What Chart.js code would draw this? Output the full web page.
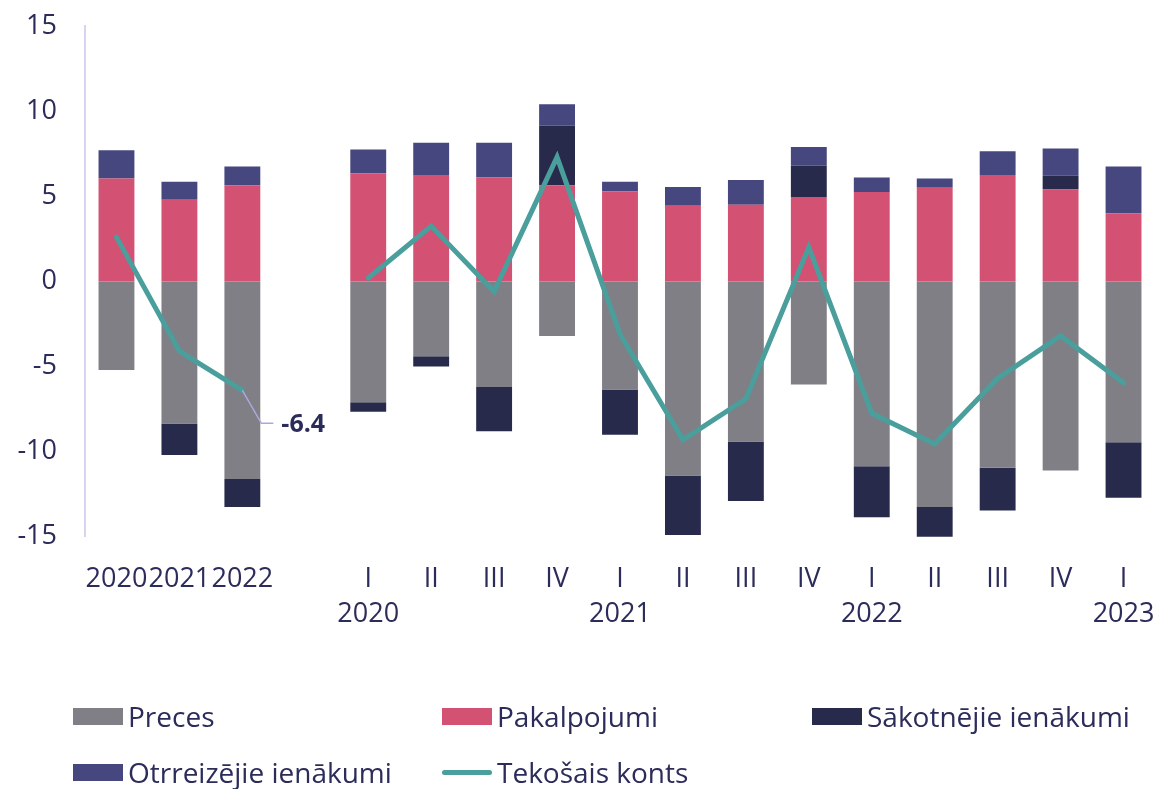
<!DOCTYPE html>
<html>
<head>
<meta charset="utf-8">
<script src="https://cdn.jsdelivr.net/npm/chart.js@4"></script>
<style>
    body { margin: 0; background: #fff; font-family: 'Open Sans', sans-serif; }
    #wrap { position: relative; width: 1158px; height: 789px; }
    #legend { position: absolute; left: 73px; top: 697px; width: 1090px; }
    .item { position: absolute; display: flex; align-items: center; font-size: 28px; color: #2b2c5a; white-space: nowrap; }
    .box { width: 50px; height: 17px; margin-right: 5px; }
    .ln { width: 50px; height: 5px; border-radius: 3px; margin-right: 5px; }
</style>
</head>
<body>
<div id="wrap">
    <canvas id="chart" width="1158" height="789"></canvas>
    <div id="legend"></div>
</div>
<script>
    const labels = [
        '2020', '2021', '2022', '',
        ['I', '2020'], 'II', 'III', 'IV',
        ['I', '2021'], 'II', 'III', 'IV',
        ['I', '2022'], 'II', 'III', 'IV',
        ['I', '2023']
    ];

    const preces = [-5.2, -8.35, -11.6, null,
        -7.1, -4.4, -6.2, -3.2,
        -6.35, -11.4, -9.4, -6.05,
        -10.85, -13.25, -10.95, -11.1,
        -9.45];
    const pakalpojumi = [6.05, 4.8, 5.65, null,
        6.35, 6.25, 6.1, 5.65,
        5.3, 4.45, 4.5, 4.95,
        5.25, 5.5, 6.25, 5.4,
        4.0];
    const sakotnejie = [0, -1.85, -1.65, null,
        -0.55, -0.6, -2.6, 3.5,
        -2.65, -3.5, -3.5, 1.85,
        -3.0, -2.0, -2.5, 0.8,
        -3.25];
    const otrreizejie = [1.65, 1.05, 1.1, null,
        1.4, 1.9, 2.05, 1.25,
        0.55, 1.1, 1.45, 1.1,
        0.85, 0.55, 1.4, 1.6,
        2.75];
    const tekosais = [2.6, -4.1, -6.4, null,
        0.2, 3.25, -0.6, 7.3,
        -3.1, -9.3, -6.9, 2.0,
        -7.75, -9.55, -5.7, -3.2,
        -5.95];

    const textColor = '#2b2c5a';

    const data = {
        labels: labels,
        datasets: [
            { label: 'Preces', data: preces, backgroundColor: '#807f85', order: 1 },
            { label: 'Pakalpojumi', data: pakalpojumi, backgroundColor: '#d35172', order: 1 },
            { label: 'Sākotnējie ienākumi', data: sakotnejie, backgroundColor: '#282a4c', order: 1 },
            { label: 'Otrreizējie ienākumi', data: otrreizejie, backgroundColor: '#46477e', order: 1 },
            {
                label: 'Tekošais konts',
                type: 'line',
                data: tekosais,
                borderColor: '#4a9e9c',
                backgroundColor: '#4a9e9c',
                borderWidth: 5,
                borderCapStyle: 'round',
                pointRadius: 0,
                spanGaps: false,
                tension: 0,
                order: 0
            }
        ]
    };

    // leader line + value label for the 2022 current account point
    const callout = {
        id: 'callout',
        afterDatasetsDraw: (chart) => {
            const ctx = chart.ctx;
            const pt = chart.getDatasetMeta(4).data[2];
            ctx.save();
            ctx.strokeStyle = '#a9a9dd';
            ctx.lineWidth = 1.5;
            ctx.beginPath();
            ctx.moveTo(pt.x, pt.y);
            ctx.lineTo(pt.x + 19, pt.y + 33);
            ctx.lineTo(pt.x + 31, pt.y + 33);
            ctx.stroke();
            ctx.fillStyle = textColor;
            ctx.font = 'bold 25px "Open Sans"';
            ctx.textBaseline = 'middle';
            ctx.fillText(tekosais[2].toFixed(1), pt.x + 39, pt.y + 35);
            ctx.restore();
        }
    };

    const config = {
        type: 'bar',
        data: data,
        options: {
            responsive: false,
            animation: false,
            barPercentage: 0.57,
            categoryPercentage: 1,
            layout: {
                padding: { top: 26, right: 3, bottom: 140, left: 0 }
            },
            plugins: {
                legend: { display: false },
                tooltip: { enabled: false }
            },
            scales: {
                x: {
                    stacked: true,
                    grid: { display: false },
                    border: { display: false },
                    ticks: {
                        color: textColor,
                        autoSkip: false,
                        maxRotation: 0,
                        padding: 17,
                        font: { family: 'Open Sans', size: 27, lineHeight: 1.3 }
                    },
                    afterFit: (scale) => { scale.paddingLeft = 0; scale.paddingRight = 0; }
                },
                y: {
                    stacked: true,
                    min: -15,
                    max: 15,
                    grid: { display: false, drawTicks: false },
                    border: { display: true, color: '#d3d6ee', width: 2 },
                    ticks: {
                        stepSize: 5,
                        color: textColor,
                        padding: 28,
                        font: { family: 'Open Sans', size: 27 }
                    },
                    afterFit: (scale) => {
                        scale.width = 85;
                        scale.paddingTop = 0;
                        scale.paddingBottom = 0;
                    }
                }
            }
        },
        plugins: [callout]
    };

    let chart = new Chart(document.getElementById('chart'), config);

    // legend in fixed columns, like the source
    const legendPos = [[0, 0], [369, 0], [739, 0], [0, 56], [369, 56]];
    const legend = document.getElementById('legend');
    chart.data.datasets.forEach(function (ds, i) {
        let item = document.createElement('div');
        item.className = 'item';
        item.style.left = legendPos[i][0] + 'px';
        item.style.top = legendPos[i][1] + 'px';
        let mark = document.createElement('span');
        mark.className = ds.type === 'line' ? 'ln' : 'box';
        mark.style.background = ds.backgroundColor;
        let txt = document.createElement('span');
        txt.textContent = ds.label;
        item.appendChild(mark);
        item.appendChild(txt);
        legend.appendChild(item);
    });
</script>
</body>
</html>
